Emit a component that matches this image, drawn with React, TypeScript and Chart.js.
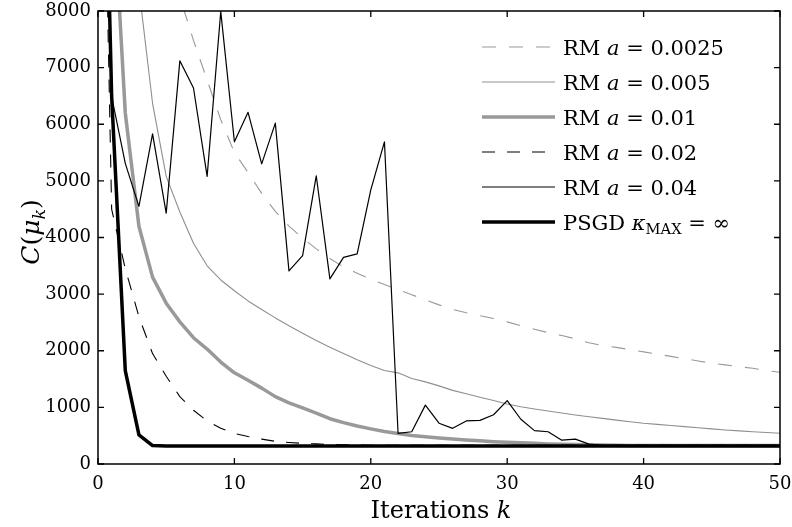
import React, { useEffect, useRef } from "react";
import { Chart, registerables } from "chart.js";

Chart.register(...registerables);

// ---------- data ----------
const iterations = [
  0, 1, 2, 3, 4, 5, 6, 7, 8, 9, 10, 11, 12, 13, 14, 15, 16, 17, 18, 19, 20,
  21, 22, 23, 24, 25, 26, 27, 28, 29, 30, 31, 32, 33, 34, 35, 36, 37, 38, 39, 40,
  41, 42, 43, 44, 45, 46, 47, 48, 49, 50,
];

const rmA0025 = [
  16500, 15000, 13500, 12000, 10500, 9300, 8250, 7480, 6780, 6080, 5500,
  5150, 4780, 4460, 4200, 3990, 3800, 3630, 3480, 3370, 3260,
  3170, 3080, 2990, 2900, 2810, 2730, 2670, 2620, 2570, 2510,
  2440, 2380, 2320, 2270, 2210, 2140, 2090, 2060, 2020, 1980,
  1940, 1900, 1860, 1820, 1780, 1750, 1720, 1690, 1650, 1620,
];

const rmA005 = [
  16500, 14000, 11000, 8400, 6370, 5080, 4450, 3900, 3500, 3250, 3060,
  2880, 2730, 2580, 2440, 2310, 2180, 2060, 1950, 1840, 1740,
  1650, 1610, 1510, 1450, 1380, 1300, 1240, 1180, 1120, 1060,
  1010, 970, 935, 900, 866, 835, 805, 775, 745, 719,
  700, 680, 660, 640, 620, 600, 585, 570, 555, 542,
];

const rmA01 = [
  16500, 10500, 6200, 4200, 3300, 2840, 2510, 2230, 2030, 1800, 1610,
  1480, 1340, 1190, 1080, 990, 900, 800, 730, 670, 620,
  575, 540, 505, 480, 460, 440, 425, 410, 395, 385,
  375, 365, 355, 350, 345, 340, 335, 330, 328, 328,
  328, 328, 328, 328, 328, 328, 328, 328, 328, 328,
];

const rmA02 = [
  16500, 4500, 3450, 2600, 1950, 1550, 1190, 950, 760, 630, 540,
  485, 440, 400, 380, 365, 355, 345, 340, 335, 330,
  330, 330, 330, 330, 330, 330, 330, 330, 330, 330,
  330, 330, 330, 330, 330, 330, 330, 330, 330, 330,
  330, 330, 330, 330, 330, 330, 330, 330, 330, 330,
];

const rmA04 = [
  16500, 6490, 5310, 4550, 5830, 4430, 7120, 6640, 5080, 7990, 5690,
  6210, 5300, 6020, 3410, 3680, 5090, 3270, 3650, 3710, 4840,
  5690, 540, 570, 1040, 720, 630, 760, 770, 870, 1120,
  790, 590, 570, 420, 440, 350, 330, 330, 330, 330,
  330, 330, 330, 330, 330, 330, 330, 330, 330, 330,
];

const psgd = [
  16500, 6500, 1650, 515, 325, 320, 320, 320, 320, 320, 320,
  320, 320, 320, 320, 320, 320, 320, 320, 320, 320,
  320, 320, 320, 320, 320, 320, 320, 320, 320, 320,
  320, 320, 320, 320, 320, 320, 320, 320, 320, 320,
  320, 320, 320, 320, 320, 320, 320, 320, 320, 320,
];

const xTicks = [0, 10, 20, 30, 40, 50];
const yTicks = [0, 1000, 2000, 3000, 4000, 5000, 6000, 7000, 8000];

type Run = { t: string; s?: "i" | "sub" | "isub" };

const legendLabels: Run[][] = [
  [{ t: "RM " }, { t: "a", s: "i" }, { t: " = 0.0025" }],
  [{ t: "RM " }, { t: "a", s: "i" }, { t: " = 0.005" }],
  [{ t: "RM " }, { t: "a", s: "i" }, { t: " = 0.01" }],
  [{ t: "RM " }, { t: "a", s: "i" }, { t: " = 0.02" }],
  [{ t: "RM " }, { t: "a", s: "i" }, { t: " = 0.04" }],
  [{ t: "PSGD " }, { t: "κ", s: "i" }, { t: "MAX", s: "sub" }, { t: " = ∞" }],
];

const xTitle: Run[] = [{ t: "Iterations " }, { t: "k", s: "i" }];
const yTitle: Run[] = [
  { t: "C", s: "i" },
  { t: "(" },
  { t: "μ", s: "i" },
  { t: "k", s: "isub" },
  { t: ")" },
];

const FONT = '"DejaVu Serif", "Liberation Serif", serif';
const GRAY = "#999999";
const THIN_GRAY = "#8f8f8f";

function runsWidth(ctx: CanvasRenderingContext2D, runs: Run[], size: number) {
  let w = 0;
  for (const r of runs) {
    const italic = r.s === "i" || r.s === "isub";
    const sub = r.s === "sub" || r.s === "isub";
    const fs = sub ? size * 0.7 : size;
    ctx.font = `${italic ? "italic " : ""}${fs}px ${FONT}`;
    w += ctx.measureText(r.t).width;
  }
  return w;
}

function drawRuns(
  ctx: CanvasRenderingContext2D,
  runs: Run[],
  x: number,
  baseline: number,
  size: number
) {
  let cx = x;
  ctx.textBaseline = "alphabetic";
  ctx.textAlign = "left";
  for (const r of runs) {
    const italic = r.s === "i" || r.s === "isub";
    const sub = r.s === "sub" || r.s === "isub";
    const fs = sub ? size * 0.7 : size;
    ctx.font = `${italic ? "italic " : ""}${fs}px ${FONT}`;
    ctx.fillText(r.t, cx, sub ? baseline + size * 0.22 : baseline);
    cx += ctx.measureText(r.t).width;
  }
}

const decorPlugin = {
  id: "decor",
  afterDraw(chart: any) {
    const { ctx, chartArea: a, scales } = chart;
    const xs = scales.x;
    const ys = scales.y;
    ctx.save();
    ctx.strokeStyle = "#000";
    ctx.fillStyle = "#000";
    ctx.lineWidth = 1.3;
    ctx.setLineDash([]);
    const tl = 6;
    ctx.beginPath();
    for (const v of xTicks) {
      const px = xs.getPixelForValue(v);
      ctx.moveTo(px, a.bottom);
      ctx.lineTo(px, a.bottom - tl);
      ctx.moveTo(px, a.top);
      ctx.lineTo(px, a.top + tl);
    }
    for (const v of yTicks) {
      const py = ys.getPixelForValue(v);
      ctx.moveTo(a.left, py);
      ctx.lineTo(a.left + tl, py);
      ctx.moveTo(a.right, py);
      ctx.lineTo(a.right - tl, py);
    }
    ctx.stroke();
    ctx.lineWidth = 1.5;
    ctx.strokeRect(a.left, a.top, a.right - a.left, a.bottom - a.top);

    // legend
    const ds = chart.data.datasets;
    const lx0 = 482;
    const lx1 = 555;
    const tx = 563;
    const size = 21;
    for (let i = 0; i < legendLabels.length; i++) {
      const cy = 47 + 35 * i;
      const d = ds[i];
      ctx.beginPath();
      ctx.strokeStyle = d.borderColor;
      ctx.lineWidth = d.borderWidth;
      ctx.setLineDash(d.borderDash || []);
      ctx.moveTo(lx0, cy);
      ctx.lineTo(lx1, cy);
      ctx.stroke();
      ctx.setLineDash([]);
      ctx.fillStyle = "#000";
      drawRuns(ctx, legendLabels[i], tx, cy + size * 0.36, size);
    }

    // x title
    const xsz = 24;
    const xw = runsWidth(ctx, xTitle, xsz);
    drawRuns(ctx, xTitle, 441 - xw / 2, 518, xsz);

    // y title
    const ysz = 25;
    const yw = runsWidth(ctx, yTitle, ysz);
    ctx.save();
    ctx.translate(30, 232);
    ctx.rotate(-Math.PI / 2);
    drawRuns(ctx, yTitle, -yw / 2, ysz * 0.36, ysz);
    ctx.restore();

    ctx.restore();
  },
};

function toPoints(values: number[]) {
  return values.map((v, i) => ({ x: iterations[i], y: v }));
}

export default function App() {
  const ref = useRef<HTMLCanvasElement | null>(null);

  useEffect(() => {
    document.body.style.margin = "0";
    const canvas = ref.current;
    if (!canvas) return;
    const chart = new Chart(canvas, {
      type: "line",
      data: {
        datasets: [
          { label: "RM a = 0.0025", data: toPoints(rmA0025), borderColor: GRAY, borderWidth: 1.1, borderDash: [14, 13], order: 5 },
          { label: "RM a = 0.005", data: toPoints(rmA005), borderColor: THIN_GRAY, borderWidth: 1.1, order: 4 },
          { label: "RM a = 0.01", data: toPoints(rmA01), borderColor: GRAY, borderWidth: 3.5, order: 3 },
          { label: "RM a = 0.02", data: toPoints(rmA02), borderColor: "#000", borderWidth: 1.1, borderDash: [13, 12], order: 2 },
          { label: "RM a = 0.04", data: toPoints(rmA04), borderColor: "#000", borderWidth: 1.2, order: 1 },
          { label: "PSGD", data: toPoints(psgd), borderColor: "#000", borderWidth: 3.5, order: 0 },
        ].map((d) => ({
          ...d,
          pointRadius: 0,
          pointHoverRadius: 0,
          fill: false,
          tension: 0,
          clip: 0,
          borderJoinStyle: "round" as const,
        })),
      },
      options: {
        responsive: false,
        animation: false,
        devicePixelRatio: 1,
        layout: { padding: { left: 0, right: 12, top: 11, bottom: 0 } },
        plugins: {
          legend: { display: false },
          tooltip: { enabled: false },
          title: { display: false },
        },
        scales: {
          x: {
            type: "linear",
            min: 0,
            max: 50,
            afterFit: (s: any) => {
              s.height = 63;
              s.paddingLeft = 0;
              s.paddingRight = 0;
            },
            grid: { display: false, drawTicks: false },
            border: { display: false },
            ticks: {
              stepSize: 10,
              padding: 10,
              color: "#000",
              font: { family: FONT, size: 18 },
              callback: (v: any) => String(v),
              maxRotation: 0,
            },
          },
          y: {
            type: "linear",
            min: 0,
            max: 8000,
            afterFit: (s: any) => {
              s.width = 98;
              s.paddingTop = 0;
              s.paddingBottom = 0;
            },
            grid: { display: false, drawTicks: false },
            border: { display: false },
            ticks: {
              stepSize: 1000,
              padding: 7,
              color: "#000",
              font: { family: FONT, size: 18 },
              callback: (v: any) => String(v),
            },
          },
        },
      },
      plugins: [decorPlugin],
    });
    return () => chart.destroy();
  }, []);

  return (
    <div style={{ position: "absolute", left: 0, top: 0, width: 792, height: 527, background: "#fff" }}>
      <canvas ref={ref} width={792} height={527} style={{ display: "block" }} />
    </div>
  );
}
